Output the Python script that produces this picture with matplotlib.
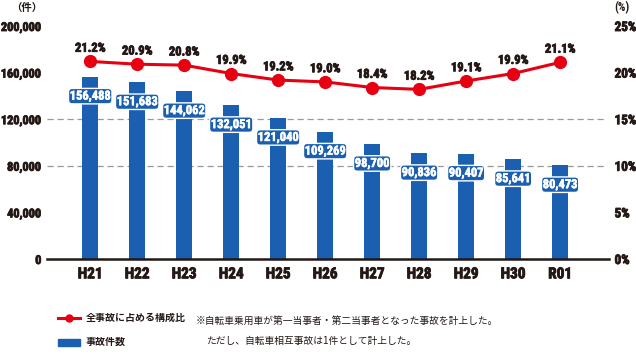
import matplotlib
matplotlib.use("Agg")
import matplotlib.pyplot as plt
import matplotlib.patheffects as pe
from matplotlib.lines import Line2D
from matplotlib.patches import Rectangle

years = ["H21", "H22", "H23", "H24", "H25", "H26", "H27", "H28", "H29", "H30", "R01"]
accidents = [156488, 151683, 144062, 132051, 121040, 109269, 98700, 90836, 90407, 85641, 80473]
ratio = [21.2, 20.9, 20.8, 19.9, 19.2, 19.0, 18.4, 18.2, 19.1, 19.9, 21.1]
left_ticks = [0, 40000, 80000, 120000, 160000, 200000]
right_ticks = [0, 5, 10, 15, 20, 25]

BLUE = "#1a5fb0"
RED = "#e60012"
INK = "#231815"
NUM_FONT = ["Roboto Condensed", "Liberation Sans Narrow", "DejaVu Sans"]
JP_FONT = ["Noto Sans CJK JP", "DejaVu Sans"]
num = dict(family=NUM_FONT, fontweight="bold", fontstretch="condensed")
heavy = [pe.withStroke(linewidth=0.6, foreground=INK)]
heavy_w = [pe.withStroke(linewidth=0.4, foreground="white")]

fig = plt.figure(figsize=(6.36, 3.59), dpi=100)
W, H = 636, 359
ax = fig.add_axes([47 / W, (H - 259) / H, (609 - 47) / W, (259 - 26) / H])
ax2 = ax.twinx()

x = list(range(len(years)))
ax.bar(x, accidents, width=0.34, color=BLUE, zorder=2)
ax.set_ylim(0, 200000)
ax.set_xlim(-0.92, 11.04)
for y in (80000, 120000):
    ax.axhline(y, xmax=0.995, color="#999999", lw=0.9, ls=(0, (5, 3)), zorder=1)

for xi, v in zip(x, accidents):
    t = ax.annotate(f"{v:,}", (xi, v), xytext=(0, -14), textcoords="offset points",
                    ha="center", va="center", color="white", fontsize=9, zorder=5,
                    bbox=dict(boxstyle="round,pad=0.1,rounding_size=0.3",
                              fc=BLUE, ec="white", lw=1.0), **num)
    t.set_path_effects(heavy_w)

ax2.plot(x, ratio, color=RED, lw=2.2, marker="o", ms=8.5, zorder=4)
ax2.set_ylim(0, 25)
for xi, v in zip(x, ratio):
    ax2.annotate(f"{v:.1f}%", (xi, v), xytext=(0, 9.5), textcoords="offset points",
                 ha="center", va="center", color=INK, fontsize=9,
                 path_effects=heavy, **num)

ax.set_yticks(left_ticks)
ax.set_yticklabels([f"{t:,}" for t in left_ticks], color=INK, fontsize=8.8, **num)
ax2.set_yticks(right_ticks)
ax2.set_yticklabels([f"{t}%" for t in right_ticks], color=INK, fontsize=9.5, **num)
ax.set_xticks(x)
ax.set_xticklabels(years, color=INK, fontsize=11, **num)
for lbl in ax.get_yticklabels() + ax2.get_yticklabels() + ax.get_xticklabels():
    lbl.set_path_effects(heavy)
ax.tick_params(axis="both", length=0)
ax.tick_params(axis="y", pad=4)
ax.tick_params(axis="x", pad=6)
ax2.tick_params(axis="y", length=0, pad=4)

for a in (ax, ax2):
    for s in ("top", "left", "right", "bottom"):
        a.spines[s].set_visible(False)
ax.axhline(0, color=INK, lw=1.8, zorder=3, clip_on=False)

fig.text(27 / W, 1 - 8 / H, "（件）", family=JP_FONT, fontsize=7.5,
         fontweight="bold", ha="center", va="center", color=INK)
fig.text(622 / W, 1 - 8 / H, "(%)", fontsize=8.5, ha="center", va="center",
         color=INK, **num)

# legend
fig.add_artist(Line2D([58 / W, 80 / W], [1 - 318 / H] * 2, color=RED, lw=2.2,
                      transform=fig.transFigure))
fig.add_artist(Line2D([69 / W], [1 - 318 / H], color=RED, marker="o", ms=5,
                      transform=fig.transFigure))
fig.add_artist(Rectangle((58 / W, 1 - 346 / H), 22 / W, 7 / H, color=BLUE,
                         transform=fig.transFigure))
fig.text(86 / W, 1 - 318 / H, "全事故に占める構成比", family=JP_FONT, fontsize=7.2,
         fontweight="bold", va="center", color=INK)
fig.text(86 / W, 1 - 342 / H, "事故件数", family=JP_FONT, fontsize=7.2,
         fontweight="bold", va="center", color=INK)
fig.text(196 / W, 1 - 321 / H, "※自転車乗用車が第一当事者・第二当事者となった事故を計上した。",
         family=JP_FONT, fontsize=7, va="center", color=INK)
fig.text(206 / W, 1 - 341 / H, "ただし、自転車相互事故は1件として計上した。",
         family=JP_FONT, fontsize=7, va="center", color=INK)

fig.savefig("out.png", dpi=100)
